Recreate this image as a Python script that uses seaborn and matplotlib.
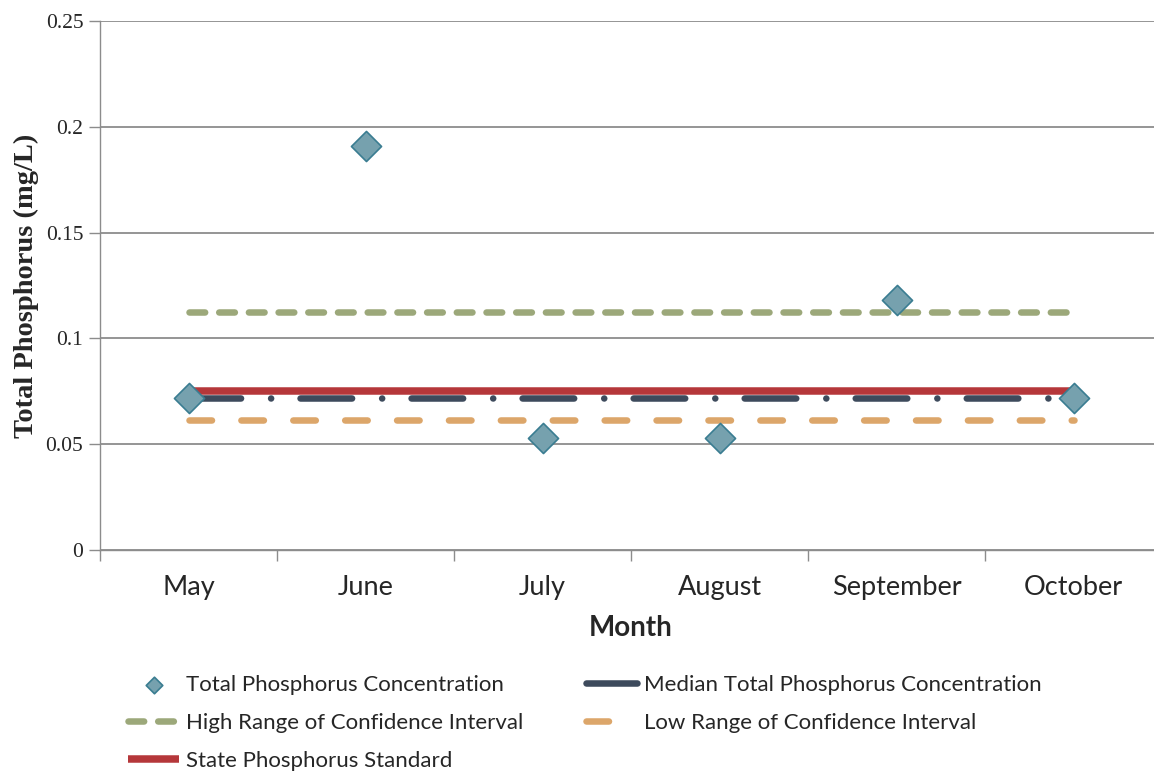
import matplotlib.pyplot as plt
import matplotlib as mpl
import seaborn as sns
from matplotlib.ticker import FixedLocator

# data
months = ['May', 'June', 'July', 'August', 'September', 'October']
tp_conc = [0.072, 0.191, 0.053, 0.053, 0.118, 0.072]
median_tp = [0.072, 0.072, 0.072, 0.072, 0.072, 0.072]
ci_high = [0.1125, 0.1125, 0.1125, 0.1125, 0.1125, 0.1125]
ci_low = [0.0615, 0.0615, 0.0615, 0.0615, 0.0615, 0.0615]
state_std = [0.075, 0.075, 0.075, 0.075, 0.075, 0.075]
y_ticks = [0, 0.05, 0.1, 0.15, 0.2, 0.25]
y_labels = ['0', '0.05', '0.1', '0.15', '0.2', '0.25']

sns.set_theme(style="white")
mpl.rcParams.update({
    'font.family': ['Lato', 'DejaVu Sans'],
    'axes.edgecolor': '#8c8c8c',
    'axes.linewidth': 1.0,
})

SERIF = ['Liberation Serif', 'DejaVu Serif']
GRID = '#8c8c8c'

fig = plt.figure(figsize=(11.54, 7.72), dpi=100)
ax = fig.add_axes([100 / 1154, 1 - 550 / 772, 1062 / 1154, 529 / 772])

lw = 4.7
sns.lineplot(x=months, y=ci_high, color='#9ca87a', linewidth=lw, sort=False,
             linestyle=(0, (2.4, 2.15)), dash_capstyle='round',
             label='High Range of Confidence Interval', ax=ax)
sns.lineplot(x=months, y=ci_low, color='#dca66a', linewidth=lw, sort=False,
             linestyle=(0, (3.45, 4.5)), dash_capstyle='round',
             label='Low Range of Confidence Interval', ax=ax)
sns.lineplot(x=months, y=state_std, color='#b5373a', linewidth=5.4, sort=False,
             solid_capstyle='butt',
             label='State Phosphorus Standard', ax=ax)
sns.lineplot(x=months, y=median_tp, color='#3d4a5c', linewidth=lw, sort=False,
             linestyle=(0, (7.9, 4.6, 0.01, 4.5)), dash_capstyle='round',
             label='Median Total Phosphorus Concentration', ax=ax)
sns.scatterplot(x=months, y=tp_conc, marker='D', s=235, color='#76a1ae',
                edgecolor='#3a7d91', linewidth=1.2, zorder=5,
                label='Total Phosphorus Concentration', ax=ax)

ax.set_xlim(-0.5, len(months) - 0.5)
ax.set_ylim(0, 0.25)

# category boundaries get the tick marks, labels sit on the centres
ax.xaxis.set_major_locator(FixedLocator([i - 0.5 for i in range(len(months) + 1)]))
ax.xaxis.set_major_formatter(mpl.ticker.NullFormatter())
ax.xaxis.set_minor_locator(FixedLocator(list(range(len(months)))))
ax.set_xticklabels(months, minor=True)
ax.tick_params(axis='x', which='major', direction='out', length=8, width=1,
               color=GRID, bottom=True)
ax.tick_params(axis='x', which='minor', length=0, pad=18, labelsize=19.5,
               bottom=True)

ax.set_yticks(y_ticks)
ax.set_yticklabels(y_labels, family=SERIF, fontsize=15.5)
ax.tick_params(axis='y', direction='out', length=8, width=1, color=GRID,
               pad=4, left=True)

ax.yaxis.grid(True, color=GRID, linewidth=1.3)
ax.xaxis.grid(False)
ax.set_axisbelow(True)
for side in ['top', 'right']:
    ax.spines[side].set_visible(False)

ax.set_xlabel('Month', fontsize=20, fontweight='bold', labelpad=11)
ax.set_ylabel('Total Phosphorus (mg/L)', family=SERIF, fontsize=20.5,
              fontweight='bold', labelpad=4.5)

handles, labels = ax.get_legend_handles_labels()
lookup = dict(zip(labels, handles))
order = ['Total Phosphorus Concentration', 'High Range of Confidence Interval',
         'State Phosphorus Standard', 'Median Total Phosphorus Concentration',
         'Low Range of Confidence Interval']
ax.get_legend().remove()
fig.legend([lookup[k] for k in order], order, loc='upper left',
           bbox_to_anchor=(128 / 1154, 1 - 675 / 772), ncol=2, frameon=False,
           fontsize=16, handlelength=2.3, handletextpad=0.33, markerscale=0.55,
           columnspacing=2.8, labelspacing=0.81, borderpad=0, borderaxespad=0)

plt.savefig('out.png', dpi=100)
